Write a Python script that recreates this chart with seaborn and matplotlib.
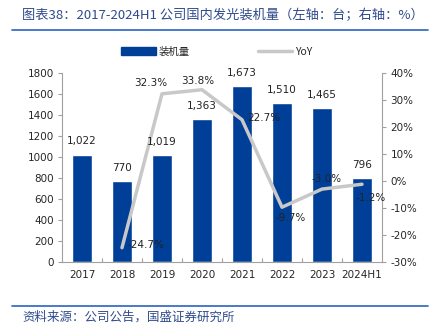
import matplotlib
matplotlib.use("Agg")
import matplotlib.pyplot as plt
import seaborn as sns
import pandas as pd
from matplotlib.patches import Patch
from matplotlib.lines import Line2D

categories = ["2017", "2018", "2019", "2020", "2021", "2022", "2023", "2024H1"]
installs = [1022, 770, 1019, 1363, 1673, 1510, 1465, 796]
yoy_years = ["2018", "2019", "2020", "2021", "2022", "2023", "2024H1"]
yoy = [-24.7, 32.3, 33.8, 22.7, -9.7, -3.0, -1.2]
left_ticks = [0, 200, 400, 600, 800, 1000, 1200, 1400, 1600, 1800]
right_ticks = [-30, -20, -10, 0, 10, 20, 30, 40]

sns.set_theme(style="white")
plt.rcParams['font.family'] = ['DejaVu Sans', 'Noto Sans CJK SC']

BAR = "#003f98"
LINE = "#c8c8c8"
TITLE = "#2f4b8c"
RULE = "#2a62c0"
SPINE = "#a0a0a0"
FS = 7.5
CJK = ["Noto Sans CJK SC", "DejaVu Sans"]

fig = plt.figure(figsize=(4.33, 3.28), dpi=100)
ax = fig.add_axes([62/433, 66/328, 320/433, 189/328])

df = pd.DataFrame({"year": categories, "val": installs})
sns.barplot(data=df, x="year", y="val", color=BAR, width=0.48, saturation=1, ax=ax, zorder=2)
ax.set_ylim(0, 1800)
ax.set_yticks(left_ticks)
ax.set_yticklabels([str(t) for t in left_ticks], fontsize=FS)
ax.set_xlim(-0.5, len(categories) - 0.5)
ax.set_xlabel("")
ax.set_ylabel("")
ax.tick_params(axis="x", labelsize=FS, length=0, pad=6)
ax.tick_params(axis="y", length=3, width=0.8, color=SPINE, direction="out", left=True, pad=3)
for s in ["top", "right"]:
    ax.spines[s].set_visible(False)
for s in ["left", "bottom"]:
    ax.spines[s].set_color(SPINE)
    ax.spines[s].set_linewidth(0.8)
ax.set_xticks([i + 0.5 for i in range(len(categories) - 1)], minor=True)
ax.tick_params(axis="x", which="minor", length=3, direction="in", color=SPINE, width=0.8, bottom=True)

ax2 = ax.twinx()
xpos = [categories.index(y) for y in yoy_years]
ldf = pd.DataFrame({"x": xpos, "yoy": yoy})
sns.lineplot(data=ldf, x="x", y="yoy", color=LINE, linewidth=2.5, ax=ax2, zorder=3)
ax2.set_ylim(-30, 40)
ax2.set_yticks(right_ticks)
ax2.set_yticklabels([f"{t}%" for t in right_ticks], fontsize=FS)
ax2.set_ylabel("")
ax2.set_xlabel("")
ax2.set_xlim(-0.5, len(categories) - 0.5)
ax2.tick_params(axis="y", length=3, width=0.8, color=SPINE, direction="out", right=True, pad=3)
for s in ["top", "left", "bottom"]:
    ax2.spines[s].set_visible(False)
ax2.spines["right"].set_color(SPINE)
ax2.spines["right"].set_linewidth(0.8)

# bar value labels, drawn on top axes so the line does not cover them
for i, v in enumerate(installs):
    ax2.annotate(f"{v:,}", (i, v), xycoords=ax.transData, xytext=(0, 9.5),
                 textcoords="offset points", ha="center", va="center",
                 fontsize=FS, color="#222222", zorder=5)

offsets = {
    "2018": (4, 2, "left", "center"),
    "2019": (-8, 8, "center", "center"),
    "2020": (-3, 6, "center", "center"),
    "2021": (3.5, 1.5, "left", "center"),
    "2022": (6, -8, "center", "center"),
    "2023": (3, 7, "center", "center"),
    "2024H1": (6, -10, "center", "center"),
}
for yr, v in zip(yoy_years, yoy):
    dx, dy, ha, va = offsets[yr]
    ax2.annotate(f"{v:.1f}%", (categories.index(yr), v), xytext=(dx, dy),
                 textcoords="offset points", ha=ha, va=va, fontsize=FS,
                 color="#222222", zorder=5)

handles = [Patch(facecolor=BAR, edgecolor=BAR), Line2D([0], [0], color=LINE, lw=2.5)]
fig.legend(handles, ["装机量", "YoY"], loc="center", bbox_to_anchor=(217/433, 1 - 52/328),
           ncol=2, frameon=False, handlelength=3.3, handleheight=0.8,
           columnspacing=6.5, handletextpad=0.3, prop={"family": CJK, "size": FS})

fig.text(22/433, 1 - 15/328, "图表38：2017-2024H1 公司国内发光装机量（左轴：台；右轴：%）",
         ha="left", va="center", fontsize=9.5, color=TITLE, family=CJK)
fig.add_artist(Line2D([12/433, 428/433], [1 - 30/328, 1 - 30/328], color=RULE, lw=1.2))
fig.add_artist(Line2D([12/433, 428/433], [1 - 306/328, 1 - 306/328], color=RULE, lw=1.2))
fig.text(22/433, 1 - 317/328, "资料来源：公司公告，国盛证券研究所", ha="left", va="center",
         fontsize=9, color=TITLE, family=CJK)

fig.savefig("out.png", dpi=100)
